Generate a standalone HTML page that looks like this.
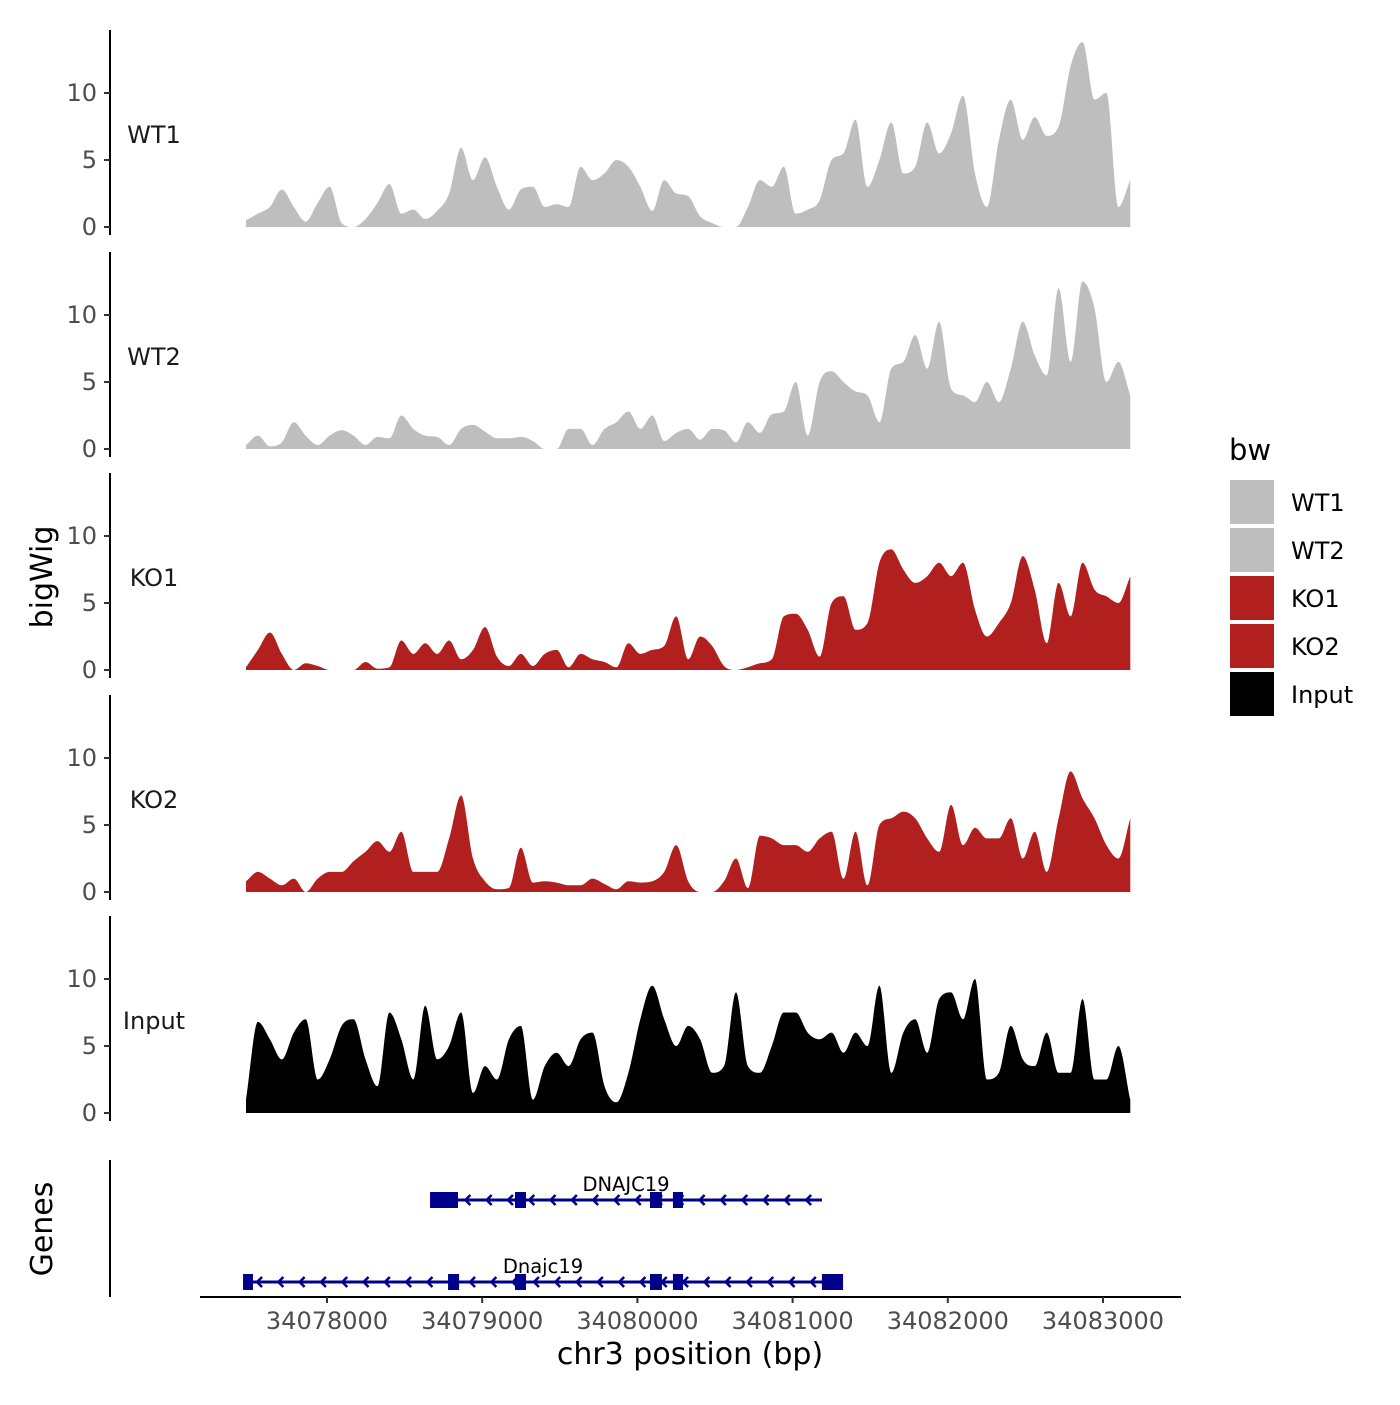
<!DOCTYPE html>
<html><head><meta charset="utf-8"><style>
html,body{margin:0;padding:0;background:#fff;}
svg text{font-family:"DejaVu Sans","Liberation Sans",sans-serif;}
</style></head><body>
<svg id="chart" width="1400" height="1400" viewBox="0 0 1400 1400" xmlns="http://www.w3.org/2000/svg">
<rect width="1400" height="1400" fill="#fff"/>
<text transform="translate(52,577) rotate(-90)" text-anchor="middle" font-size="30" fill="#000">bigWig</text>
<text transform="translate(52,1229) rotate(-90)" text-anchor="middle" font-size="30" fill="#000">Genes</text>
<text x="690" y="1364" text-anchor="middle" font-size="30" fill="#000">chr3 position (bp)</text>
<g id="legend">
<text x="1229" y="460" font-size="29" fill="#000">bw</text>
</g>
</svg>
<script>
const svg = document.getElementById('chart');
const NS = 'http://www.w3.org/2000/svg';
const startBp = 34077478;
const stepBp = 77;
const trackNames = ['WT1','WT2','KO1','KO2','Input'];
const trackColors = ['#bebebe','#bebebe','#b21f1f','#b21f1f','#000000'];
const wt1 = [0.5,1.0,1.5,2.8,1.5,0.4,1.8,3.0,0.3,0,0.6,1.8,3.2,1.0,1.3,0.6,1.2,2.5,5.9,3.5,5.2,3.0,1.3,2.8,3.0,1.5,1.7,1.5,4.5,3.5,4.0,5.0,4.5,3.0,1.2,3.5,2.5,2.3,0.8,0.3,0,0,1.5,3.5,3.0,4.5,1.0,1.3,2.0,5.0,5.5,8.0,3.0,5.0,7.8,4.0,4.5,7.8,5.5,7.0,9.8,4.0,1.5,6.5,9.5,6.5,8.2,6.8,7.5,12.0,13.8,9.5,10.0,1.5,3.5];
const wt2 = [0.3,1.0,0.2,0.5,2.0,1.0,0.3,1.0,1.4,1.0,0.3,0.9,0.8,2.5,1.5,1.0,0.9,0.3,1.5,1.8,1.3,0.8,0.8,0.9,0.6,0,0,1.5,1.5,0.3,1.5,2.0,2.8,1.5,2.5,0.6,1.2,1.5,0.7,1.5,1.4,0.5,2.0,1.2,2.6,2.8,5.0,1.0,5.0,5.8,5.0,4.3,4.0,2.0,6.0,6.5,8.5,6.0,9.5,4.5,4.0,3.5,5.0,3.5,6.0,9.5,7.0,5.5,12.0,6.5,12.5,10.5,5.0,6.5,4.0];
const ko1 = [0.2,1.5,2.8,1.2,0,0.5,0.3,0,0,0,0.6,0.1,0.2,2.2,1.2,2.0,1.2,2.2,0.8,1.5,3.2,1.0,0.3,1.2,0.3,1.2,1.5,0.2,1.2,0.8,0.6,0.2,2.0,1.2,1.5,1.8,4.0,0.8,2.5,1.8,0.3,0,0.2,0.5,0.8,4.0,4.2,3.0,1.0,5.0,5.5,3.0,3.5,8.0,9.0,7.5,6.5,7.0,8.0,7.0,8.0,4.5,2.5,3.5,5.0,8.5,6.0,2.0,6.5,4.0,8.0,6.0,5.5,5.0,7.0];
const ko2 = [0.8,1.5,1.0,0.5,1.0,0,1.0,1.5,1.5,2.3,3.0,3.8,3.0,4.5,1.5,1.5,1.5,4.0,7.2,2.5,0.8,0.2,0.3,3.3,0.7,0.8,0.7,0.5,0.5,1.0,0.6,0.2,0.8,0.7,0.8,1.5,3.5,0.8,0,0,0.8,2.5,0.3,4.2,4.0,3.5,3.5,3.0,4.0,4.5,1.0,4.5,0.5,5.0,5.5,6.0,5.5,4.0,3.0,6.5,3.5,4.8,4.0,4.0,5.5,2.5,4.5,1.5,5.5,9.0,7.0,5.5,3.5,2.5,5.5];
const input = [1,6.8,5.5,4.0,6.0,7.0,2.5,4.0,6.5,7.0,4.0,2.0,7.5,5.5,2.5,8.0,4.0,5.0,7.5,1.5,3.5,2.5,5.5,6.5,1.0,3.5,4.5,3.5,5.5,6.0,2.0,0.8,3.0,7.0,9.5,7.0,5.0,6.5,5.5,3.0,3.5,9.0,3.5,3.0,5.0,7.5,7.5,6.0,5.5,6.0,4.5,6.0,5.0,9.5,3.0,6.0,7.0,4.5,8.5,9.0,7.0,10.0,2.5,3.0,6.5,4.0,3.5,6.0,3.0,3.0,8.5,2.5,2.5,5.0,1.0];
const yTicks = [0,5,10];
const xTicks = [34078000,34079000,34080000,34081000,34082000,34083000];
const legendLabels = ['WT1','WT2','KO1','KO2','Input'];
const legendColors = ['#bebebe','#bebebe','#b21f1f','#b21f1f','#000000'];
const gene1Exons = [[34078664,34078844],[34079211,34079282],[34080081,34080158],[34080229,34080294]];
const gene1Span = [34078664,34081189];
const gene2Exons = [[34077459,34077523],[34078780,34078851],[34079211,34079282],[34080081,34080158],[34080229,34080294],[34081189,34081325]];
const gene2Span = [34077459,34081325];

const series = [wt1, wt2, ko1, ko2, input];
const baselines = [227, 449, 670, 892, 1113];
const xScale = bp => 327 + (bp - 34078000) * 0.1552;
const pxPerUnit = 13.4;

function mk(tag, attrs, parent){ const e=document.createElementNS(NS,tag); for(const k in attrs) e.setAttribute(k,attrs[k]); (parent||svg).appendChild(e); return e; }

function monotonePath(xs, ys){
  const n = xs.length; const d=[], m=new Array(n);
  for(let i=0;i<n-1;i++) d.push((ys[i+1]-ys[i])/(xs[i+1]-xs[i]));
  m[0]=d[0]; m[n-1]=d[n-2];
  for(let i=1;i<n-1;i++){ m[i] = (d[i-1]*d[i]<=0) ? 0 : (d[i-1]+d[i])/2; }
  for(let i=0;i<n-1;i++){
    if(d[i]===0){ m[i]=0; m[i+1]=0; continue; }
    const a=m[i]/d[i], b=m[i+1]/d[i], s=a*a+b*b;
    if(s>9){ const t=3/Math.sqrt(s); m[i]=t*a*d[i]; m[i+1]=t*b*d[i]; }
  }
  let p='';
  for(let i=0;i<n-1;i++){
    const h=(xs[i+1]-xs[i])/3;
    p += ` C${(xs[i]+h).toFixed(1)},${(ys[i]+m[i]*h).toFixed(1)} ${(xs[i+1]-h).toFixed(1)},${(ys[i+1]-m[i+1]*h).toFixed(1)} ${xs[i+1].toFixed(1)},${ys[i+1].toFixed(1)}`;
  }
  return p;
}

series.forEach((vals, t) => {
  const base = baselines[t];
  const yScale = v => base - v * pxPerUnit;
  const g = mk('g', {});
  
  
  const xs = vals.map((v,i) => xScale(startBp + i*stepBp));
  const ys = vals.map(v => yScale(v));
  let d = 'M' + xs[0].toFixed(1) + ',' + base + ' L' + xs[0].toFixed(1) + ',' + ys[0].toFixed(1);
  d += monotonePath(xs, ys);
  d += ' L' + xs[xs.length-1].toFixed(1) + ',' + base + ' Z';
  const area = mk('path', {d: d, fill: trackColors[t], stroke: 'none'}, g);
  
  
  const ax = mk('line', {x1:110, x2:110, y1: base-197, y2: base+8, stroke:'#000', 'stroke-width':2}, g);
  
  
  yTicks.forEach(tv => {
    const y = yScale(tv);
    const tk = mk('line', {x1:104, x2:110, y1:y, y2:y, stroke:'#333', 'stroke-width':2}, g);
    
    
    const tl = mk('text', {x:97, y:y+8, 'text-anchor':'end', 'font-size':24, fill:'#4d4d4d'}, g);
    tl.textContent = tv;
    
    
  });
  const lab = mk('text', {x:154, y: base-84, 'text-anchor':'middle', 'font-size':24, fill:'#1a1a1a'}, g);
  lab.textContent = trackNames[t];
  
  
});

const gg = mk('g', {});


const gax = mk('line', {x1:110, x2:110, y1:1160, y2:1297, stroke:'#000', 'stroke-width':2}, gg);


function drawGene(span, exons, y, label, lx){
  const col = '#00008b';
  const ln = mk('line', {x1:xScale(span[0]), x2:xScale(span[1]), y1:y, y2:y, stroke:col, 'stroke-width':3}, gg);
  
  
  for (let x = xScale(span[0]) + 14; x < xScale(span[1]) - 6; x += 21.3) {
    const a = mk('path', {d:`M${x+5},${y-5} L${x},${y} L${x+5},${y+5}`, fill:'none', stroke:col, 'stroke-width':2.5}, gg);
    
    
  }
  exons.forEach(e => {
    const r = mk('rect', {x:xScale(e[0]), y:y-8, width:xScale(e[1])-xScale(e[0]), height:16, fill:col}, gg);
    
    
  });
  const t = mk('text', {x:lx, y:y-9, 'text-anchor':'middle', 'font-size':19.5, fill:'#000'}, gg);
  t.textContent = label;
  
  
}
drawGene(gene1Span, gene1Exons, 1200, 'DNAJC19', 626);
drawGene(gene2Span, gene2Exons, 1282, 'Dnajc19', 543);

const xg = mk('g', {});


const xl = mk('line', {x1:200, x2:1181, y1:1297, y2:1297, stroke:'#000', 'stroke-width':2}, xg);


xTicks.forEach(v => {
  const x = xScale(v);
  const tk = mk('line', {x1:x, x2:x, y1:1297, y2:1303, stroke:'#333', 'stroke-width':2}, xg);
  
  
  const tl = mk('text', {x:x, y:1329, 'text-anchor':'middle', 'font-size':24, fill:'#4d4d4d'}, xg);
  tl.textContent = v;
  
  
});

const lg = document.getElementById('legend');
legendLabels.forEach((l, i) => {
  const y = 480 + i*48;
  const r = mk('rect', {x:1230, y:y, width:44, height:44, fill:legendColors[i]}, lg);
  
  
  const t = mk('text', {x:1291, y:y+31, 'font-size':24, fill:'#000'}, lg);
  t.textContent = l;
  
  
});
</script>
</body></html>
